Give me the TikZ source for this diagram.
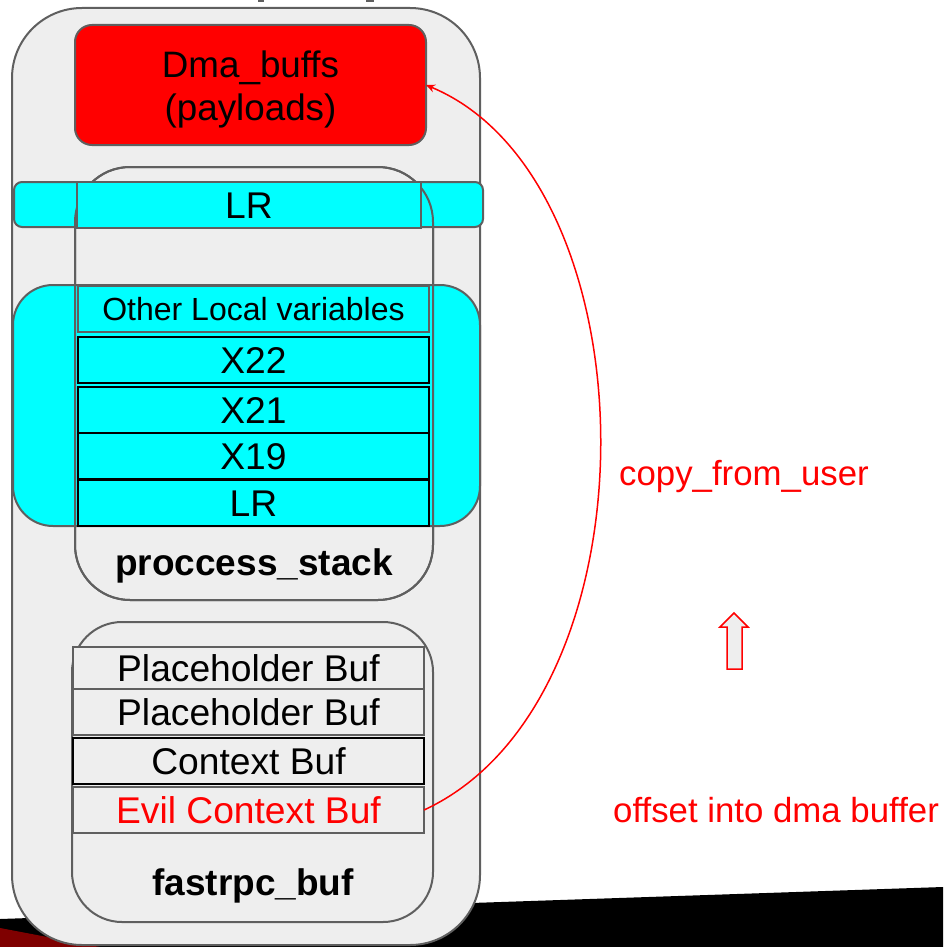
\documentclass[tikz,border=0pt]{standalone}
\usepackage{fontspec}
\setmainfont{Liberation Sans}
\usetikzlibrary{arrows.meta}
\definecolor{edgegray}{HTML}{5F5F5F}
\definecolor{panel}{HTML}{EEEEEE}
\definecolor{cyanfill}{HTML}{00FFFF}
\definecolor{hotred}{HTML}{FF0000}
\definecolor{darkred}{HTML}{7F0000}
\tikzset{
  frame/.style={draw=edgegray, line width=2pt, fill=panel, rectangle,
    inner sep=0pt, outer sep=0pt},
  cell/.style={draw=edgegray, line width=2pt, rectangle, inner sep=0pt, outer sep=0pt,
    font=\fontsize{37.2}{43}\selectfont, text height=27pt, text depth=0pt,
    minimum width=351pt, minimum height=46pt},
  cyancell/.style={cell, fill=cyanfill},
  graycell/.style={cell, fill=panel},
  blackedge/.style={draw=black},
  title/.style={font=\bfseries\fontsize{37}{43}\selectfont, inner sep=0pt, anchor=base},
  redlabel/.style={font=\fontsize{34.8}{40}\selectfont, text=hotred, inner sep=0pt, anchor=base west},
  copyarrow/.style={draw=hotred, line width=1.5pt, -{Stealth[length=9pt,width=8pt,inset=3pt]}},
}
\begin{document}
\begin{tikzpicture}[x=1pt,y=-1pt]
\useasboundingbox (0,0) rectangle (943,947);

% slanted band along the bottom edge
\fill[black] (0,919) -- (943,887) -- (943,947) -- (0,947) -- cycle;
\fill[darkred] (0,928) -- (100,947) -- (0,947) -- cycle;

% cut-off marks at the very top
\fill[edgegray] (258,0) rectangle (264,2.5);
\fill[edgegray] (366,0) rectangle (374,2.5);

% outer memory region
\node[frame, rounded corners=70pt, minimum width=468pt, minimum height=937pt] (outer) at (246,476.5) {};

% DMA buffers
\node[frame, fill=hotred, rounded corners=17pt, minimum width=351pt, minimum height=120pt] (dma) at (250.5,85) {};
\node[font=\fontsize{36.8}{43}\selectfont, align=center, inner sep=0pt] (dmalabel) at (250.5,89) {Dma\_buffs\\(payloads)};

% process stack
\node[frame, rounded corners=55pt, minimum width=358pt, minimum height=433pt] (pstack) at (254,383.5) {};
\node[draw=edgegray, line width=2pt, fill=cyanfill, rounded corners=8pt, inner sep=0pt,
  minimum width=469pt, minimum height=45pt] (lrband) at (248.5,204.5) {};
\node[draw=edgegray, line width=2pt, fill=cyanfill, rounded corners=40pt, inner sep=0pt,
  minimum width=467pt, minimum height=241pt] (frameband) at (246.5,405.5) {};
\draw[edgegray, line width=2pt, rounded corners=55pt] (pstack.south west) rectangle (pstack.north east);

\node[cyancell, minimum width=344pt] (lrtop) at (249,205) {LR};
\node[cyancell, font=\fontsize{32}{38}\selectfont, text height=23pt] (locals) at (253.5,309) {Other Local variables};
\node[cyancell, blackedge] (x22) at (253.5,360) {X22};
\node[cyancell, blackedge] (x21) at (253.5,410) {X21};
\node[cyancell, blackedge] (x19) at (253.5,456) {X19};
\node[cyancell, blackedge] (lrlow) at (253.5,502.5) {LR};
\node[title] (pstacktitle) at (254,575) {proccess\_stack};

% fastrpc buffers
\node[frame, rounded corners=50pt, minimum width=361pt, minimum height=300pt] (fbuf) at (252.5,772) {};
\node[graycell, minimum height=42pt] (ph1) at (248.5,668) {Placeholder Buf};
\node[graycell] (ph2) at (248.5,712) {Placeholder Buf};
\node[graycell, blackedge] (ctx) at (248.5,761) {Context Buf};
\node[graycell, text=hotred] (evil) at (248.5,810) {Evil Context Buf};
\node[title] (fbuftitle) at (253,895) {fastrpc\_buf};

% copy path
\draw[copyarrow] (evil.east) .. controls (662,700) and (655,180) .. (dma.east);
\node[redlabel] (copylabel) at (619,485) {copy\_from\_user};
\node[redlabel] (offsetlabel) at (613,822) {offset into dma buffer};

% hollow up arrow
\draw[hotred, line width=1.5pt, fill=panel, line join=miter]
  (727,669) -- (727,627) -- (720,627) -- (734,613) -- (748,627) -- (742,627) -- (742,669) -- cycle;
\end{tikzpicture}
\end{document}
